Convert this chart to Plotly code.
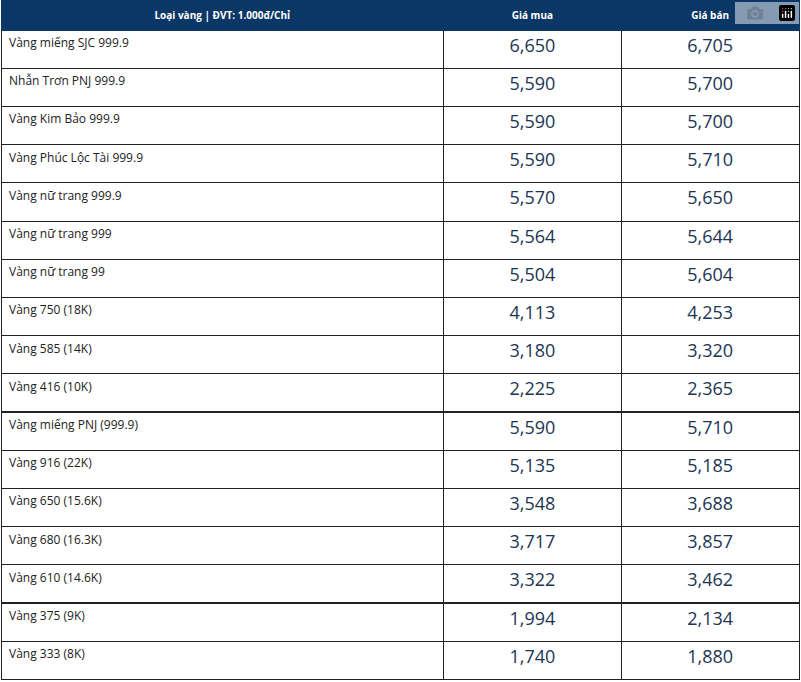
import plotly.graph_objects as go

header = ["<b>Loại vàng | ĐVT: 1.000đ/Chỉ</b>", "<b>Giá mua</b>", "<b>Giá bán</b>"]
names = ["Vàng miếng SJC 999.9", "Nhẫn Trơn PNJ 999.9", "Vàng Kim Bảo 999.9", "Vàng Phúc Lộc Tài 999.9",
         "Vàng nữ trang 999.9", "Vàng nữ trang 999", "Vàng nữ trang 99", "Vàng 750 (18K)", "Vàng 585 (14K)",
         "Vàng 416 (10K)", "Vàng miếng PNJ (999.9)", "Vàng 916 (22K)", "Vàng 650 (15.6K)", "Vàng 680 (16.3K)",
         "Vàng 610 (14.6K)", "Vàng 375 (9K)", "Vàng 333 (8K)"]
buy = [6650, 5590, 5590, 5590, 5570, 5564, 5504, 4113, 3180, 2225, 5590, 5135, 3548, 3717, 3322, 1994, 1740]
sell = [6705, 5700, 5700, 5710, 5650, 5644, 5604, 4253, 3320, 2365, 5710, 5185, 3688, 3857, 3462, 2134, 1880]

fmt = lambda v: f"{v:,}"
n = len(names)
fig = go.Figure(go.Table(
    columnwidth=[443, 178, 178],
    header=dict(values=header, fill_color="#0b3766", line_color="#0b3766",
                font=dict(color="white", size=10, family="Open Sans"), align="center", height=28),
    cells=dict(values=[names, [fmt(v) for v in buy], [fmt(v) for v in sell]],
               fill_color="white", line_color="#222222",
               font=dict(color=[["#222222"] * n, ["#1c3553"] * n, ["#1c3553"] * n],
                         size=[12, 18, 18], family="Open Sans"),
               align=["left", "center", "center"], height=38.2),
    domain=dict(x=[0, 1], y=[0, 1]),
))
fig.update_layout(width=801, height=682, margin=dict(l=1, r=2, t=0, b=0), paper_bgcolor="white")
fig.write_html("out.html", post_script="document.body.style.margin='0';document.body.style.padding='0';")
